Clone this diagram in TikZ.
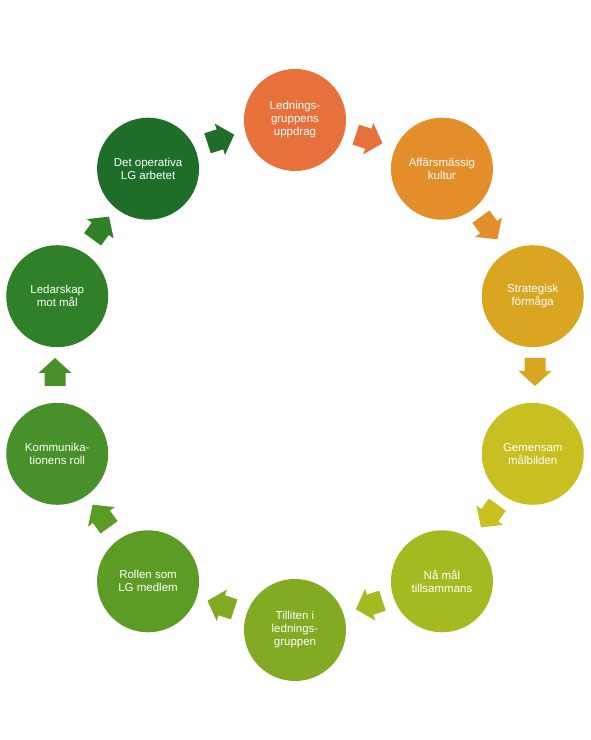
\documentclass[tikz,border=0pt]{standalone}
\usepackage{fontspec}
\setmainfont{Liberation Sans}
\definecolor{c1}{HTML}{E8703A}
\definecolor{c2}{HTML}{E48E2B}
\definecolor{c3}{HTML}{DAA520}
\definecolor{c4}{HTML}{C8C020}
\definecolor{c5}{HTML}{A6B920}
\definecolor{c6}{HTML}{82AA22}
\definecolor{c7}{HTML}{5C9C25}
\definecolor{c8}{HTML}{47902A}
\definecolor{c9}{HTML}{2F8028}
\definecolor{c10}{HTML}{1E6E2A}
\tikzset{
  stepcircle/.style={circle, minimum size=102pt, inner sep=0pt, text=white,
    align=center, font=\fontsize{11.5}{13}\selectfont},
}
\begin{document}
\begin{tikzpicture}[x=1pt,y=1pt]
\useasboundingbox (0,0) rectangle (590,740);
\foreach \i/\ang/\txt in {
  1/90/{Lednings-\\gruppens\\uppdrag},
  2/54/{Affärsmässig\\kultur},
  3/18/{Strategisk\\förmåga},
  4/-18/{Gemensam\\målbilden},
  5/-54/{Nå mål\\tillsammans},
  6/-90/{Tilliten i\\lednings-\\gruppen},
  7/-126/{Rollen som\\LG medlem},
  8/-162/{Kommunika-\\tionens roll},
  9/162/{Ledarskap\\mot mål},
  10/126/{Det operativa\\LG arbetet}}
{
  \node[stepcircle, fill=c\i] (n\i) at ({295+250*cos(\ang)},{365+255*sin(\ang)}) {\txt};
}
\foreach \i/\ang in {1/72,2/36,3/0,4/-36,5/-72,6/-108,7/-144,8/180,9/144,10/108}
{
  \coordinate (a\i) at ({295+240*cos(\ang)},{368+245*sin(\ang)});
  \fill[c\i, shift={(a\i)}, rotate=\ang-90]
    (-14,-10.5) -- (-1,-10.5) -- (-1,-16.5) -- (14,0) -- (-1,16.5) -- (-1,10.5) -- (-14,10.5) -- cycle;
}
\end{tikzpicture}
\end{document}
